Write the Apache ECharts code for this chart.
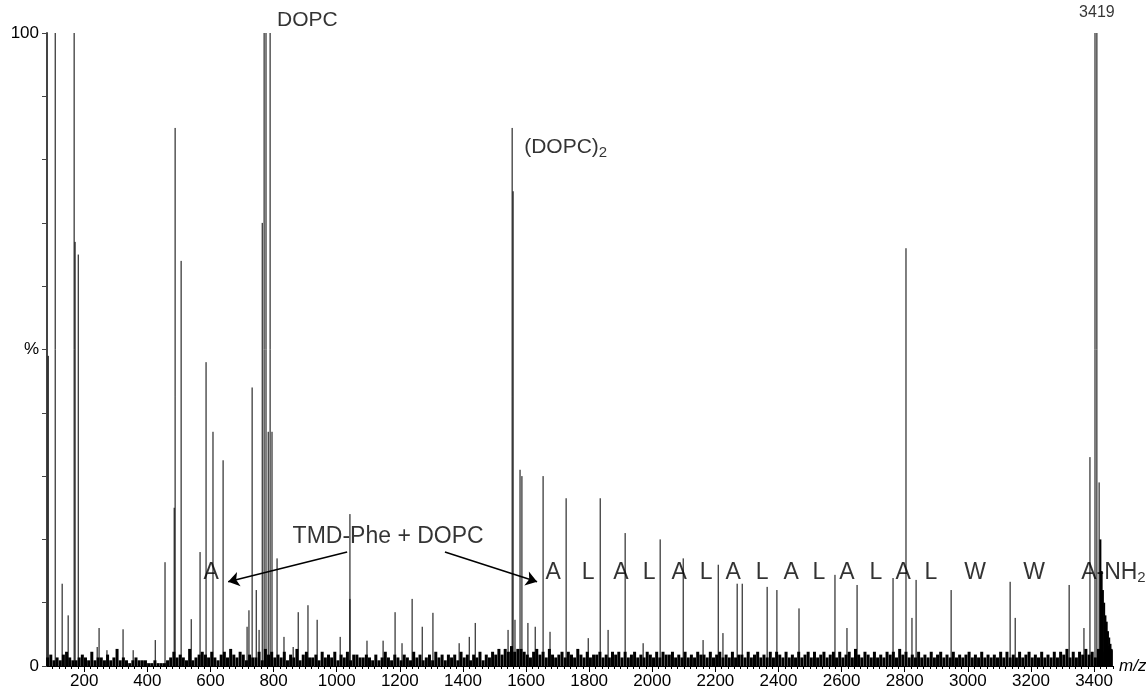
<!DOCTYPE html>
<html>
<head>
<meta charset="utf-8">
<script src="https://cdn.jsdelivr.net/npm/echarts@6/dist/echarts.min.js"></script>
<style>
html, body { margin: 0; padding: 0; background: #fff; }
#main { width: 1146px; height: 690px; }
</style>
</head>
<body>
<div id="main"></div>
<script>
// major peaks: m/z and relative intensity (%)
var peakMz  = [86, 108, 130, 149, 168, 171, 181, 241, 247, 272, 323, 355, 425, 456, 485, 488, 507, 539, 567, 586,
               608, 640, 716, 722, 732, 745, 754, 764, 770, 776, 783, 789, 795, 811, 833, 862, 878, 909, 938, 1011,
               1042, 1042, 1096, 1147, 1185, 1207, 1239, 1271, 1305, 1388, 1420, 1439, 1543, 1556, 1559, 1565, 1581, 1587, 1606, 1629,
               1654, 1676, 1727, 1797, 1835, 1860, 1914, 1971, 2025, 2098, 2161, 2209, 2224, 2269, 2285, 2364, 2395, 2465, 2579, 2617,
               2649, 2763, 2804, 2823, 2836, 2947, 3134, 3150, 3321, 3368, 3387, 3403, 3409, 3416];
var peakInt = [49, 100, 13, 8, 100, 67, 65, 3, 6, 2.5, 5.8, 2.5, 4.1, 16.4, 25, 85, 64, 7.4, 18, 48,
               37, 32.5, 6.2, 8.8, 44, 12, 5.7, 70, 100, 100, 37, 100, 37, 17, 4.6, 3, 8.5, 9.6, 7.3, 4.6,
               24, 10.6, 4, 4, 8.5, 3.6, 10.6, 6.2, 8.4, 3.6, 4.6, 6.8, 5.7, 85, 75, 7.3, 31, 30, 6.8, 6.2,
               30, 5.4, 26.5, 4.4, 26.5, 5.7, 21, 3.6, 20, 17, 4.1, 16, 5.2, 13, 13, 12.5, 12, 9.1, 14.4, 6,
               12.8, 13.9, 66, 7.6, 13.6, 12, 13.3, 7.6, 12.8, 6, 33, 100, 100, 29];

// decaying tail after the 3419 peak
var tailMz  = [3420, 3424, 3428, 3432, 3436, 3440, 3444, 3448, 3452, 3456];
var tailInt = [20, 15, 12, 10, 8, 7, 5.5, 4.5, 3.5, 2.5];

// baseline noise, read every 10 m/z from 84, in steps of 0.45 %
var noiseStart = 84;
var noiseStep = 10;
var noiseLevels =
  '34232453223432523324236232123222112111235343262345' +
  '43532453643542433526453435243624533425343524352443' +
  '34324235324324325342342534243425342435243546465756' +
  '65435645364345354364353445343545353453435435354453' +
  '43534354435345343534435345343535435343534535345345' +
  '35345364354353435453645343534353453435343453435343' +
  '43535343534534353435354635354645364576';

var majorTicks = [200, 400, 600, 800, 1000, 1200, 1400, 1600, 1800, 2000, 2200, 2400, 2600, 2800, 3000, 3200, 3400];

// sequence ladder labels
var seqLetters = ['A', 'L', 'A', 'L', 'A', 'L', 'A', 'L', 'A', 'L', 'A', 'L', 'A', 'L', 'W', 'W'];
var seqMz      = [1686, 1797, 1901, 1990, 2085, 2171, 2256, 2348, 2440, 2528, 2617, 2709, 2795, 2883, 3023, 3210];

var peaks = peakMz.map(function (m, i) { return [m, peakInt[i]]; });
var tail = tailMz.map(function (m, i) { return [m, tailInt[i]]; });
var noise = noiseLevels.split('').map(function (c, i) {
  return [noiseStart + i * noiseStep, +c * 0.45];
});

var minorTicks = [];
for (var t = 100; t <= 3460; t += 20) minorTicks.push(t);

var FONT = 'Liberation Sans, Arial, sans-serif';

function stick(width) {
  return function (params, api) {
    var top = api.coord([api.value(0), api.value(1)]);
    var base = api.coord([api.value(0), 0]);
    return {
      type: 'line',
      shape: { x1: top[0], y1: top[1], x2: base[0], y2: base[1] },
      style: { stroke: '#000', lineWidth: width }
    };
  };
}

function txt(text, size, align) {
  return { formatter: text, fontSize: size, align: align, color: '#000', fontFamily: FONT };
}

var labels = [
  { value: [811, 102], label: txt('DOPC', 21, 'left') },
  { value: [1594, 82], label: txt('(DOPC){s|2}', 21, 'left') },
  { value: [3409, 103.3], label: txt('3419', 16, 'center') },
  { value: [1163, 20.4], label: txt('TMD-Phe + DOPC', 23, 'center') },
  { value: [602, 14.8], label: txt('A', 23, 'center') },
  { value: [3359, 14.8], label: txt('A-NH{s|2}', 23, 'left') }
];
seqLetters.forEach(function (l, i) {
  labels.push({ value: [seqMz[i], 14.8], label: txt(l, 23, 'center') });
});

var myChart = echarts.init(document.getElementById('main'));
var option = {
  animation: false,
  textStyle: { fontFamily: FONT },
  grid: { left: 47, right: 33, top: 33, bottom: 24, containLabel: false, outerBoundsMode: 'none' },
  xAxis: [{
    type: 'value',
    min: 82,
    max: 3460,
    name: 'm/z',
    nameLocation: 'end',
    nameGap: 6,
    nameTextStyle: { fontStyle: 'italic', fontSize: 17, color: '#000', fontFamily: FONT },
    axisLine: { lineStyle: { color: '#000', width: 1 } },
    axisTick: { customValues: majorTicks, length: 6, lineStyle: { color: '#000' } },
    axisLabel: {
      customValues: majorTicks, fontSize: 17, color: '#000', margin: 7, fontFamily: FONT,
      formatter: function (v) { return String(v); }
    },
    splitLine: { show: false }
  }, {
    type: 'value',
    min: 82,
    max: 3460,
    position: 'bottom',
    axisLine: { show: false },
    axisTick: { customValues: minorTicks, length: 3, lineStyle: { color: '#000' } },
    axisLabel: { show: false },
    splitLine: { show: false }
  }],
  yAxis: {
    type: 'value',
    min: 0,
    max: 100,
    interval: 10,
    axisLine: { show: true, lineStyle: { color: '#444', width: 2 } },
    axisTick: { show: true, length: 5, lineStyle: { color: '#444' } },
    axisLabel: {
      fontSize: 17, color: '#000', margin: 8, fontFamily: FONT,
      formatter: function (v) {
        if (v === 0 || v === 100) return String(v);
        if (v === 50) return '%';
        return '';
      }
    },
    splitLine: { show: false }
  },
  series: [{
    type: 'custom',
    name: 'noise',
    renderItem: stick(3),
    data: noise,
    silent: true
  }, {
    type: 'custom',
    name: 'tail',
    renderItem: stick(2),
    data: tail,
    silent: true
  }, {
    type: 'custom',
    name: 'peaks',
    renderItem: stick(1),
    data: peaks,
    silent: true
  }, {
    type: 'scatter',
    name: 'labels',
    symbolSize: 0,
    clip: false,
    silent: true,
    label: {
      show: true,
      position: 'inside',
      color: '#000',
      fontFamily: FONT,
      rich: { s: { fontSize: 15, padding: [12, 0, 0, 0], color: '#000', fontFamily: FONT } }
    },
    data: labels,
    markLine: {
      silent: true,
      symbol: ['none', 'arrow'],
      symbolSize: 11,
      label: { show: false },
      lineStyle: { color: '#000', width: 1.5, type: 'solid' },
      data: [
        [{ coord: [1033, 18] }, { coord: [656, 13.3] }],
        [{ coord: [1343, 18] }, { coord: [1635, 13.3] }]
      ]
    }
  }]
};
myChart.setOption(option);
</script>
</body>
</html>
